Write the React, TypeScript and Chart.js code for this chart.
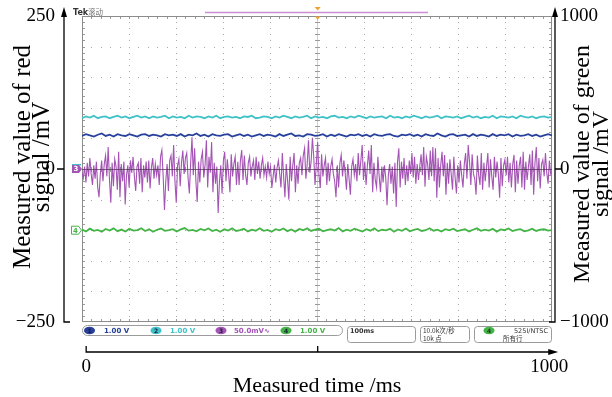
import React, { useEffect, useRef } from 'react';
import { Chart, registerables } from 'chart.js';

Chart.register(...registerables);

// ---------------- data ----------------
const timeTicks = [0, 500, 1000];
const timeLabelTicks = [0, 1000];
const redTicks = [-250, 0, 250];
const greenTicks = [-1000, 0, 1000];

// channel 3 (purple) trace, mV on red axis
const purpleTrace = [
  -6, -15, 4, -22, 10, -12, 18, -8, -26, 6, -16, 12, -30, -46, -8, 14, -20, 8, 22, -12, 36, -18, -55, 10, -28, 16, 4, -34, 28, -46,
  8, -20, 12, -58, -10, 6, -30, 14, -6, 20, -12, -36, 4, 10, -24, 18, -38, 6, -14, 12, -22, 14, -32, 2, 18, -16, 8, -10, 6, -26,
  20, 31, -12, -67, -20, 8, -36, 14, 22, -12, 39, -20, -55, 6, 16, -28, 10, 30, -8, 18, 26, -14, -40, 10, 52, -10, 34, -20, -54, 12,
  -22, 16, 28, -14, 6, 47, -30, 20, -6, 44, -38, 10, -24, 4, -72, -20, 6, -40, 14, 28, -20, 16, -8, -38, 24, -12, 8, 20, -26, 12,
  -26, 14, 31, -18, 22, -10, -26, 10, 20, -12, 4, 14, -18, 20, -8, 12, -16, 6, 18, -10, 4, -14, 12, -8, 4, -31, -12, 7, -22, 2,
  14, -8, -30, 26, -12, -46, 8, -18, -50, 20, -20, 6, 26, -38, 6, -24, 10, 18, -10, 22, 34, -16, 8, 47, -6, 12, 51, 20, -26, 10,
  44, -10, -31, 24, -12, 6, 18, -26, 10, -20, 4, 16, -8, -20, -46, 6, -30, 10, 23, -12, 14, -6, -34, 8, -16, -42, 4, 16, -10, 8,
  -20, 26, -10, 14, 39, -18, 12, -26, 6, 30, -8, 39, -38, 10, -18, -30, 20, -12, -38, 4, -22, 6, -14, -59, -10, 8, -24, 4, -40, 10,
  -62, 12, 34, -30, 12, -16, 18, -26, 6, -20, 14, -8, 26, -14, 20, -24, 8, -18, 4, 24, -10, 36, -29, 20, 8, -18, 30, -12, 36, -20,
  34, -47, 18, -30, 6, 28, -12, 23, -42, 10, -24, 16, -8, -34, 20, -14, -40, 6, -22, 14, -10, -30, 8, 26, -16, 39, 12, -26, 24, -8,
  -16, -42, 22, -10, -26, 26, -34, 10, -20, 4, 26, -30, 16, -12, -34, 20, -14, 12, -8, -47, 18, -28, 6, 15, -10, 20, -22, 10, -30, 8,
  23, -38, 14, -24, 6, 20, -30, 28, -34, 12, -18, 4, 24, -26, 30, -42, 10, 36, -20, 18, -32, 8, 15, -12, 26, -6, -24, 14, -8, -4,
];

// channel 2 (cyan) trace, mV on red axis
const cyanTrace = [
  83, 86, 84, 87, 83, 85, 86, 83, 85, 87, 84, 86, 83, 85, 87, 84, 86, 83, 86, 84,
  85, 87, 83, 86, 84, 85, 83, 87, 84, 86, 85, 83, 86, 84, 87, 83, 85, 86, 84, 85,
  83, 86, 85, 87, 83, 84, 86, 85, 83, 86, 84, 87, 85, 83, 86, 84, 85, 87, 83, 86,
  84, 85, 83, 86, 87, 84, 85, 83, 86, 84, 87, 85, 83, 86, 84, 85, 86, 83, 87, 84,
  85, 83, 86, 84, 87, 85, 83, 86, 84, 85, 87, 83, 86, 85, 84, 86, 83, 85, 87, 84,
  86, 83, 85, 84, 87, 83, 86, 85, 84, 86, 83, 87, 85, 84, 86, 83, 85, 86, 84, 85,
];

// channel 1 (blue) trace, mV on red axis
const blueTrace = [
  54, 57, 55, 53, 56, 58, 54, 56, 53, 57, 55, 54, 57, 55, 53, 56, 57, 54, 56, 55,
  53, 57, 55, 56, 54, 57, 53, 56, 55, 58, 54, 56, 53, 57, 55, 54, 56, 57, 53, 55,
  57, 54, 56, 53, 55, 57, 54, 56, 55, 53, 57, 54, 56, 58, 54, 55, 53, 57, 56, 54,
  55, 57, 53, 56, 54, 57, 55, 53, 56, 55, 57, 54, 56, 53, 57, 55, 54, 56, 57, 54,
  53, 56, 55, 57, 54, 56, 53, 57, 55, 54, 58, 55, 53, 56, 57, 54, 55, 56, 53, 57,
  54, 56, 55, 53, 57, 54, 56, 55, 57, 53, 56, 54, 55, 57, 54, 56, 53, 55, 57, 55,
];

// channel 4 (green) trace, mV on green axis
const greenTrace = [
  -395, -408, -390, -404, -398, -410, -392, -402, -388, -406, -396, -409, -391, -403, -399, -387, -405, -394, -410, -397,
  -389, -404, -400, -393, -409, -395, -386, -403, -398, -407, -392, -401, -389, -406, -397, -410, -394, -402, -388, -405,
  -399, -391, -408, -396, -403, -387, -404, -398, -410, -393, -401, -389, -406, -395, -409, -392, -400, -388, -405, -397,
  -391, -407, -399, -394, -402, -386, -408, -396, -404, -390, -400, -409, -393, -403, -388, -406, -397, -401, -391, -410,
  -395, -404, -389, -407, -398, -392, -405, -400, -387, -403, -396, -409, -393, -401, -390, -406, -399, -394, -408, -397,
  -388, -404, -396, -402, -391, -409, -395, -400, -389, -406, -398, -393, -407, -401, -390, -405, -397, -394, -403, -400,
];

const redAxisTitle = ['Measured value of red', 'signal /mV'];
const greenAxisTitle = ['Measured value of green', 'signal /mV'];
const timeAxisTitle = 'Measured time /ms';
const headerText = ['Tek', '滚动'];
const channelNumbers = ['1', '2', '3', '4'];
const channelScales = ['1.00 V', '1.00 V', '50.0mV∿', '1.00 V'];
const horizontalSetting = '100ms';
const acquisitionInfo = ['10.0k次/秒', '10k 点'];
const triggerInfo = ['4', '525I/NTSC', '所有行'];

// ---------------- styles ----------------
const SERIF = "'Liberation Serif', 'Times New Roman', serif";
const UI = "'DejaVu Sans', sans-serif";
const CJK = "'Noto Sans CJK SC', 'DejaVu Sans', sans-serif";
const CH_COLORS = ['#27409c', '#3fc1c8', '#a454b4', '#44b447'];

const fmt = (v: number) => (v < 0 ? '\u2212' + Math.abs(v) : String(v));
const toPts = (arr: number[]) => arr.map((v, i) => ({ x: (i * 1000) / (arr.length - 1), y: v }));

function tri(ctx: CanvasRenderingContext2D, pts: number[][]) {
  ctx.beginPath();
  ctx.moveTo(pts[0][0], pts[0][1]);
  for (let i = 1; i < pts.length; i++) ctx.lineTo(pts[i][0], pts[i][1]);
  ctx.closePath();
  ctx.fill();
}

const graticulePlugin = {
  id: 'graticule',
  beforeDatasetsDraw(chart: any) {
    const { ctx, chartArea: a } = chart;
    const L = a.left, R = a.right, T = a.top, B = a.bottom;
    const dx = (R - L) / 10, dy = (B - T) / 10;
    ctx.save();
    ctx.fillStyle = '#ffffff';
    ctx.fillRect(L, T, R - L, B - T);
    ctx.fillStyle = '#a9a9a9';
    for (let i = 1; i < 10; i++) {
      if (i === 5) continue;
      const x = Math.round(L + i * dx);
      for (let k = 1; k < 50; k++) ctx.fillRect(x, Math.round(T + (k * dy) / 5), 1, 1);
    }
    for (let j = 1; j < 10; j++) {
      if (j === 5) continue;
      const y = Math.round(T + j * dy);
      for (let k = 1; k < 50; k++) ctx.fillRect(Math.round(L + (k * dx) / 5), y, 1, 1);
    }
    const cx = Math.round(L + 5 * dx) + 0.5;
    const cy = Math.round(T + 5 * dy) + 0.5;
    ctx.lineWidth = 1;
    ctx.strokeStyle = '#cfcfcf';
    ctx.beginPath();
    ctx.moveTo(cx, T);
    ctx.lineTo(cx, B);
    ctx.stroke();
    ctx.strokeStyle = '#9a9a9a';
    ctx.beginPath();
    for (let k = 1; k < 50; k++) {
      const y = Math.round(T + (k * dy) / 5) + 0.5;
      ctx.moveTo(cx - 2.5, y); ctx.lineTo(cx + 2.5, y);
      ctx.moveTo(L, y); ctx.lineTo(L + 3, y);
      ctx.moveTo(R - 3, y); ctx.lineTo(R, y);
    }
    for (let k = 1; k < 50; k++) {
      const x = Math.round(L + (k * dx) / 5) + 0.5;
      ctx.moveTo(x, cy - 2.5); ctx.lineTo(x, cy + 2.5);
      ctx.moveTo(x, T); ctx.lineTo(x, T + 3);
      ctx.moveTo(x, B - 3); ctx.lineTo(x, B);
    }
    ctx.stroke();
    ctx.strokeStyle = '#8c8c8c';
    ctx.strokeRect(L + 0.5, T + 0.5, R - L - 1, B - T - 1);
    ctx.restore();
  },
  afterDatasetsDraw(chart: any) {
    const { ctx, chartArea: a } = chart;
    const cy = Math.round(chart.scales.y.getPixelForValue(0)) + 0.5;
    ctx.save();
    ctx.strokeStyle = 'rgba(70,50,70,0.7)';
    ctx.lineWidth = 1;
    ctx.beginPath();
    ctx.moveTo(a.left, cy);
    ctx.lineTo(a.right, cy);
    ctx.stroke();
    ctx.restore();
  },
};

const decorPlugin = {
  id: 'decor',
  afterDraw(chart: any) {
    const { ctx, chartArea: a, scales } = chart;
    const ys = scales.y, xt = scales.xt;
    const yTop = ys.getPixelForValue(250);
    const yBot = ys.getPixelForValue(-250);
    const y0 = ys.getPixelForValue(0);
    const axL = a.left - 18;
    const axR = a.right + 3;
    ctx.save();
    ctx.strokeStyle = '#000';
    ctx.fillStyle = '#000';
    ctx.lineWidth = 1.3;
    // left axis
    ctx.beginPath();
    ctx.moveTo(axL, yTop - 3);
    ctx.lineTo(axL, yBot);
    ctx.lineTo(axL + 6, yBot);
    ctx.moveTo(axL - 7, y0);
    ctx.lineTo(axL, y0);
    ctx.stroke();
    tri(ctx, [[axL, yTop - 9], [axL - 3, yTop + 1], [axL + 3, yTop + 1]]);
    // right axis
    ctx.beginPath();
    ctx.moveTo(axR, yTop - 3);
    ctx.lineTo(axR, yBot);
    ctx.lineTo(axR - 6, yBot);
    ctx.moveTo(axR, y0);
    ctx.lineTo(axR + 6, y0);
    ctx.stroke();
    tri(ctx, [[axR, yTop - 9], [axR - 3, yTop + 1], [axR + 3, yTop + 1]]);
    // bottom axis
    const by = 352;
    const bx0 = xt.getPixelForValue(0);
    const bxm = xt.getPixelForValue(500);
    const bx1 = xt.getPixelForValue(1000) + 8;
    ctx.beginPath();
    ctx.moveTo(bx0, by - 6);
    ctx.lineTo(bx0, by);
    ctx.lineTo(bx1 - 4, by);
    ctx.moveTo(bxm, by - 6);
    ctx.lineTo(bxm, by);
    ctx.stroke();
    tri(ctx, [[bx1 + 1, by], [bx1 - 9, by - 3], [bx1 - 9, by + 3]]);

    // side titles
    ctx.textAlign = 'center';
    ctx.textBaseline = 'alphabetic';
    const drawRot = (text: string, x: number, y: number) => {
      ctx.save();
      ctx.translate(x, y);
      ctx.rotate(-Math.PI / 2);
      ctx.fillText(text, 0, 0);
      ctx.restore();
    };
    ctx.font = `25px ${SERIF}`;
    drawRot(redAxisTitle[0], 30, 157);
    drawRot(redAxisTitle[1], 49, 157);
    ctx.font = `24px ${SERIF}`;
    drawRot(greenAxisTitle[0], 589, 164);
    drawRot(greenAxisTitle[1], 608, 164);

    // header
    ctx.textAlign = 'left';
    ctx.font = `bold 8px ${UI}`;
    ctx.fillStyle = '#333';
    ctx.fillText(headerText[0], a.left - 9, 15);
    ctx.font = `7.5px ${CJK}`;
    ctx.fillStyle = '#777';
    ctx.fillText(headerText[1], a.left + 6, 15);
    ctx.strokeStyle = '#c98fd2';
    ctx.lineWidth = 1.5;
    ctx.beginPath();
    ctx.moveTo(205, 12.5);
    ctx.lineTo(428, 12.5);
    ctx.stroke();
    const mx = xt.getPixelForValue(500);
    ctx.fillStyle = '#f0a030';
    tri(ctx, [[mx - 3, 7], [mx + 3, 7], [mx, 10.5]]);
    tri(ctx, [[mx - 2.5, a.top + 0.5], [mx + 2.5, a.top + 0.5], [mx, a.top + 4]]);

    // channel markers on graticule left edge
    const gy = chart.scales.y2.getPixelForValue(-400);
    ctx.fillStyle = CH_COLORS[1];
    ctx.fillRect(72, y0 - 5, 9, 1.5);
    ctx.fillStyle = CH_COLORS[2];
    ctx.beginPath();
    ctx.moveTo(72, y0 - 4); ctx.lineTo(79, y0 - 4); ctx.lineTo(82, y0);
    ctx.lineTo(79, y0 + 4); ctx.lineTo(72, y0 + 4); ctx.closePath();
    ctx.fill();
    ctx.fillStyle = '#fff';
    ctx.font = `bold 7px ${UI}`;
    ctx.textAlign = 'center';
    ctx.textBaseline = 'middle';
    ctx.fillText(channelNumbers[2], 76, y0 + 0.5);
    ctx.strokeStyle = CH_COLORS[3];
    ctx.lineWidth = 1;
    ctx.beginPath();
    ctx.moveTo(71.5, gy - 4); ctx.lineTo(78.5, gy - 4); ctx.lineTo(81.5, gy);
    ctx.lineTo(78.5, gy + 4); ctx.lineTo(71.5, gy + 4); ctx.closePath();
    ctx.stroke();
    ctx.fillStyle = CH_COLORS[3];
    ctx.fillText(channelNumbers[3], 75.5, gy + 0.5);

    // status bar
    ctx.strokeStyle = '#9b9b9b';
    ctx.lineWidth = 1;
    const rr = (x: number, y: number, w: number, h: number, r: number) => {
      ctx.beginPath();
      (ctx as any).roundRect(x, y, w, h, r);
      ctx.stroke();
    };
    rr(a.left + 0.5, 325.5, 260, 10, 5);
    const badgeX = [89.5, 156, 221, 286];
    const textX = [104, 170, 234, 300];
    for (let i = 0; i < 4; i++) {
      ctx.fillStyle = CH_COLORS[i];
      ctx.beginPath();
      ctx.ellipse(badgeX[i], 330.5, 5.5, 3.8, 0, 0, Math.PI * 2);
      ctx.fill();
      ctx.fillStyle = '#1a1a3a';
      ctx.font = `bold 6px ${UI}`;
      ctx.textAlign = 'center';
      ctx.textBaseline = 'middle';
      ctx.fillText(channelNumbers[i], badgeX[i], 331);
      ctx.fillStyle = CH_COLORS[i];
      ctx.font = `bold 7px ${UI}`;
      ctx.textAlign = 'left';
      ctx.fillText(channelScales[i], textX[i], 331);
    }
    rr(347.5, 326.5, 68, 16, 3);
    rr(420.5, 326.5, 49, 16, 3);
    rr(474.5, 326.5, 77, 16, 3);
    ctx.fillStyle = '#333';
    ctx.font = `bold 6.5px ${UI}`;
    ctx.textAlign = 'left';
    ctx.fillText(horizontalSetting, 350, 331);
    ctx.font = `6.5px ${CJK}`;
    ctx.fillText(acquisitionInfo[0], 423, 331);
    ctx.fillText(acquisitionInfo[1], 423, 338.5);
    ctx.fillStyle = CH_COLORS[3];
    ctx.beginPath();
    ctx.ellipse(489, 330.5, 5.5, 3.8, 0, 0, Math.PI * 2);
    ctx.fill();
    ctx.fillStyle = '#1a3a1a';
    ctx.font = `bold 6px ${UI}`;
    ctx.textAlign = 'center';
    ctx.fillText(triggerInfo[0], 489, 331);
    ctx.fillStyle = '#333';
    ctx.font = `6.5px ${UI}`;
    ctx.textAlign = 'right';
    ctx.fillText(triggerInfo[1], 548, 331);
    ctx.font = `6.5px ${CJK}`;
    ctx.textAlign = 'left';
    ctx.fillText(triggerInfo[2], 503, 338.5);
    ctx.restore();
  },
};

const tickFont = { family: SERIF, size: 19 };
const zeroPad = (s: any) => { s.paddingTop = 0; s.paddingBottom = 0; s.paddingLeft = 0; s.paddingRight = 0; };

export default function App() {
  const ref = useRef<HTMLCanvasElement>(null);
  useEffect(() => {
    document.body.style.margin = '0';
    const chart = new Chart(ref.current as HTMLCanvasElement, {
      type: 'line',
      data: {
        datasets: [
          { label: 'CH3', data: toPts(purpleTrace), yAxisID: 'y', xAxisID: 'x', borderColor: CH_COLORS[2], borderWidth: 1.1, pointRadius: 0 },
          { label: 'CH2', data: toPts(cyanTrace), yAxisID: 'y', xAxisID: 'x', borderColor: CH_COLORS[1], borderWidth: 1.8, pointRadius: 0 },
          { label: 'CH1', data: toPts(blueTrace), yAxisID: 'y', xAxisID: 'x', borderColor: CH_COLORS[0], borderWidth: 1.8, pointRadius: 0 },
          { label: 'CH4', data: toPts(greenTrace), yAxisID: 'y2', xAxisID: 'x', borderColor: CH_COLORS[3], borderWidth: 1.8, pointRadius: 0 },
        ],
      } as any,
      options: {
        animation: false,
        responsive: false,
        devicePixelRatio: 1,
        layout: { padding: { top: 16, left: 0, right: 0, bottom: 0 } },
        elements: { line: { tension: 0 } },
        plugins: { legend: { display: false }, tooltip: { enabled: false } },
        scales: {
          x: { type: 'linear', display: false, min: 0, max: 1000 },
          xt: {
            type: 'linear',
            position: 'bottom',
            min: -9,
            max: 1006,
            afterFit: (s: any) => { s.height = 75; zeroPad(s); },
            afterBuildTicks: (s: any) => { s.ticks = timeTicks.map((v) => ({ value: v })); },
            ticks: {
              autoSkip: false,
              maxRotation: 0,
              padding: 34,
              color: '#000',
              font: tickFont,
              callback: (v: any) => (timeLabelTicks.includes(Number(v)) ? fmt(Number(v)) : ''),
            },
            grid: { display: false, drawTicks: false },
            border: { display: false },
            title: { display: true, text: timeAxisTitle, color: '#000', font: { family: SERIF, size: 22, lineHeight: 1 }, padding: 0 },
          },
          y: {
            type: 'linear',
            position: 'left',
            min: -250,
            max: 250,
            afterFit: (s: any) => { s.width = 82; zeroPad(s); },
            afterBuildTicks: (s: any) => { s.ticks = redTicks.map((v) => ({ value: v })); },
            ticks: { padding: 27, color: '#000', font: tickFont, callback: (v: any) => fmt(Number(v)) },
            grid: { display: false, drawTicks: false },
            border: { display: false },
          },
          y2: {
            type: 'linear',
            position: 'right',
            min: -1000,
            max: 1000,
            afterFit: (s: any) => { s.width = 60; zeroPad(s); },
            afterBuildTicks: (s: any) => { s.ticks = greenTicks.map((v) => ({ value: v })); },
            ticks: { padding: 8, color: '#000', font: tickFont, callback: (v: any) => fmt(Number(v)) },
            grid: { display: false, drawTicks: false },
            border: { display: false },
          },
        },
      } as any,
      plugins: [graticulePlugin, decorPlugin],
    });
    return () => chart.destroy();
  }, []);
  return (
    <div style={{ position: 'relative', width: 612, height: 397, background: '#fff' }}>
      <canvas ref={ref} width={612} height={397} style={{ width: 612, height: 397, display: 'block' }} />
    </div>
  );
}
